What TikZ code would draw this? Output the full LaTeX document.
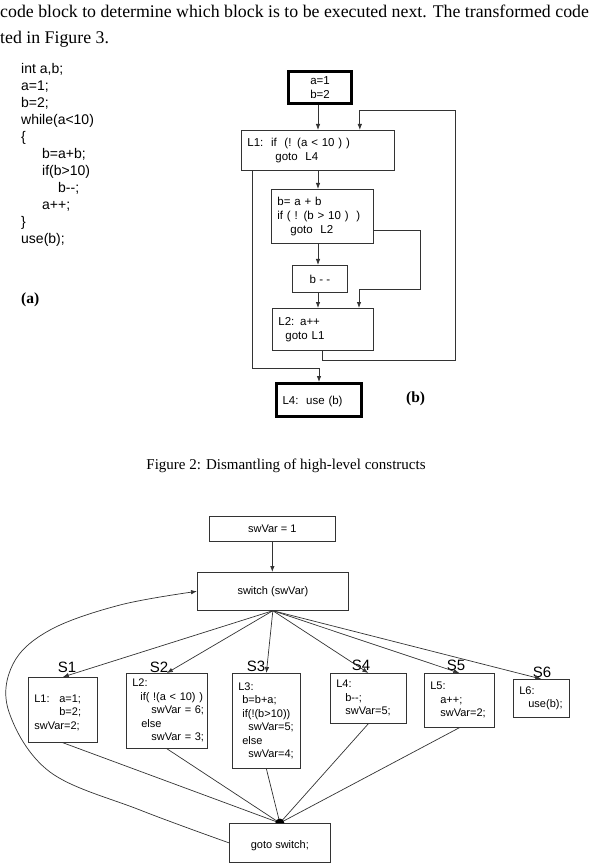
\documentclass[tikz,border=0pt]{standalone}
\usepackage{fontspec}
\setmainfont{Liberation Serif}
\newfontfamily\arial{Liberation Sans}
\usetikzlibrary{arrows.meta,calc}

\tikzset{
    blk/.style={draw=black!80, line width=0.8pt, inner xsep=6pt, inner ysep=0pt,
        align=left, anchor=north west, font=\arial\fontsize{11.5}{14}\selectfont},
    cblk/.style={blk, align=center},
    thickblk/.style={line width=3pt, draw=black},
    sblk/.style={blk, line width=0.7pt, font=\arial\fontsize{11}{13.5}\selectfont},
    csblk/.style={sblk, align=center},
    arr/.style={-{Latex[length=6pt,width=4.5pt]}, draw=black!80, line width=0.8pt},
    ln/.style={draw=black!80, line width=0.7pt},
    slab/.style={font=\arial\fontsize{15}{18}\selectfont, inner sep=0pt},
    code/.style={font=\arial\fontsize{14}{17}\selectfont, align=left, inner sep=0pt, anchor=north west},
    tag/.style={font=\bfseries\fontsize{15.5}{18}\selectfont, inner sep=0pt, anchor=base west}
}

\begin{document}
\begin{tikzpicture}[x=1pt,y=-1pt]
\useasboundingbox (0,0) rectangle (597,866);

% running text
\node[anchor=base west, inner sep=0pt, font=\fontsize{17.8}{20}\selectfont] (txt1) at (0,18)
    {code block to determine which block is to be executed next. The transformed code};
\node[anchor=base west, inner sep=0pt, font=\fontsize{17.8}{20}\selectfont] (txt2) at (0,44)
    {ted in Figure 3.};

% (a) source
\node[code] (src) at (21,63) {int a,b;\\ a=1;\\ b=2;\\ while(a<10)\\ \{\\
    \hspace*{21pt}b=a+b;\\ \hspace*{21pt}if(b>10)\\ \hspace*{37pt}b-{}-;\\
    \hspace*{21pt}a++;\\ \}\\ use(b);};
\node[tag] (taga) at (21,303) {(a)};

% (b) flow graph
\coordinate (col) at (318,0);
\node[cblk, thickblk, minimum width=63pt, minimum height=32pt] (a12) at (287,70) {a=1\\b=2};
\node[blk, text width=141pt, minimum height=40pt] (l1) at (241,130)
    {L1:\ \ if\ \ (! (a < 10 ) )\\ \hspace*{28pt}goto\ \ L4};
\node[blk, text width=90pt, minimum height=54pt] (b2) at (271,189)
    {b= a + b\\ if ( ! (b > 10 )\ \ )\\ \hspace*{13pt}goto\ \ L2};
\node[cblk, minimum width=55pt, minimum height=27pt] (bmm) at (292,265) {b - -};
\node[blk, text width=89pt, minimum height=42pt] (l2) at (272,308)
    {L2: a++\\ \hspace*{7pt}goto L1};
\node[blk, thickblk, text width=73pt, minimum height=33pt, text depth=-2pt] (l4) at (275,382)
    {L4:\ \ use (b)};
\node[tag] (tagb) at (406,402) {(b)};

\draw[arr] (col |- a12.south) -- (col |- l1.north);
\draw[arr] (col |- l1.south) -- (col |- b2.north);
\draw[arr] (col |- b2.south) -- (col |- bmm.north);
\draw[arr] (col |- bmm.south) -- (col |- l2.north);
\draw[arr] ($(b2.south east)+(0,-13)$) -- ++(47,0) -- ++(0,59) -| ($(l2.north west)+(87,0)$);
\draw[arr] ($(l2.south west)+(50,0)$) -- ++(0,10) -| ($(l1.north east)+(61,-20)$)
    -| ($(l1.north east)+(-35,0)$);
\draw[arr] ($(l1.south west)+(11,0)$) |- ($(l4.north)+(0,-14)$) -- (l4.north);

\node[font=\fontsize{15}{18}\selectfont, inner sep=0pt] (cap) at (286,466)
    {Figure 2: Dismantling of high-level constructs};

% switch version
\node[csblk, minimum width=126pt, minimum height=25pt] (swv) at (209,516) {swVar = 1};
\node[csblk, minimum width=151pt, minimum height=38pt] (sw) at (197,572) {switch (swVar)};
\node[sblk, text width=57pt, minimum height=65pt] (s1) at (28,677)
    {\mbox{}\\ \makebox[25pt][l]{L1:}a=1;\\ \hspace*{25pt}b=2;\\ swVar=2;};
\node[sblk, text width=69pt, minimum height=75pt] (s2) at (126,673)
    {L2:\\ \hspace*{8pt}if(~!(a~<~10)~)\\ \hspace*{19pt}swVar~=~6;\\
    \hspace*{9pt}else\\ \hspace*{19pt}swVar~=~3;};
\node[sblk, text width=56pt, minimum height=95pt] (s3) at (232,673)
    {L3:\\ \hspace*{4pt}b=b+a;\\ \hspace*{4pt}if(!(b>10))\\ \hspace*{10pt}swVar=5;\\
    \hspace*{4pt}else\\ \hspace*{10pt}swVar=4;};
\node[sblk, text width=64pt, minimum height=50pt] (s4) at (330,673)
    {L4:\\ \hspace*{9pt}b-{}-;\\ \hspace*{9pt}swVar=5;};
\node[sblk, text width=58pt, minimum height=54pt] (s5) at (424,673)
    {L5:\\ \hspace*{10pt}a++;\\ \hspace*{10pt}swVar=2;};
\node[sblk, text width=44pt, minimum height=38pt] (s6) at (513,679)
    {L6:\\ \hspace*{9pt}use(b);};
\node[csblk, minimum width=101pt, minimum height=39pt] (gt) at (229,823)
    {\mbox{}\\goto switch;};

\node[slab] (n1) at (67,667) {S1};
\node[slab] (n2) at (159,667) {S2};
\node[slab] (n3) at (256,666) {S3};
\node[slab] (n4) at (361,665) {S4};
\node[slab] (n5) at (456,665) {S5};
\node[slab] (n6) at (542,672) {S6};

\draw[arr] (swv.south) -- (swv.south |- sw.north);
\foreach \s in {s1,s2,s3,s4,s5,s6}
    \draw[arr, line width=0.7pt] (sw.south) -- (\s.north);
\foreach \s in {s1,s2,s3,s4,s5}
    \draw[ln] (\s.south) -- (gt.north);
\fill[black] (gt.north) ++(-4.5pt,0) arc[start angle=180, end angle=0, radius=4.5pt] -- cycle;
\draw[arr, line width=0.7pt] plot[smooth, tension=0.6] coordinates
    {(gt.west) (140,810) (50,772) (9,712) (13,664) (50,630) (120,605) (sw.west)};
\end{tikzpicture}
\end{document}
